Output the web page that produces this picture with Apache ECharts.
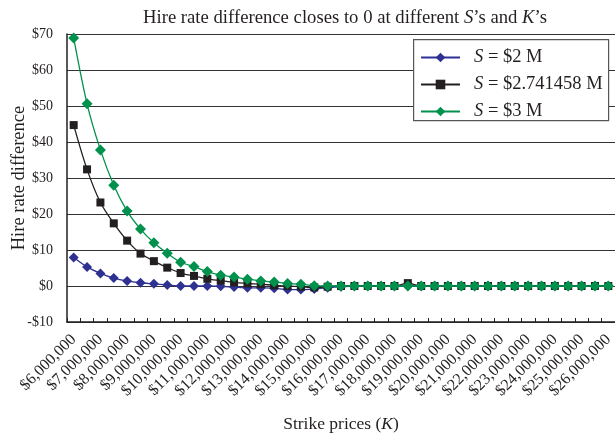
<!DOCTYPE html>
<html>
<head>
<meta charset="utf-8">
<script src="https://cdn.jsdelivr.net/npm/echarts@6/dist/echarts.min.js"></script>
<style>
html,body{margin:0;padding:0;background:#fff;}
#c{width:615px;height:434px;}
</style>
</head>
<body>
<div id="c"></div>
<script>
var strikePrices = [6000000, 6500000, 7000000, 7500000, 8000000, 8500000, 9000000, 9500000, 10000000, 10500000,
  11000000, 11500000, 12000000, 12500000, 13000000, 13500000, 14000000, 14500000, 15000000, 15500000,
  16000000, 16500000, 17000000, 17500000, 18000000, 18500000, 19000000, 19500000, 20000000, 20500000,
  21000000, 21500000, 22000000, 22500000, 23000000, 23500000, 24000000, 24500000, 25000000, 25500000, 26000000];

var s2M = [7.9, 5.3, 3.5, 2.2, 1.4, 0.9, 0.6, 0.3, 0.0, 0.0,
  0.0, -0.1, -0.3, -0.5, -0.5, -0.6, -1.0, -1.0, -0.8, -0.5,
  -0.2, 0, 0, 0, 0, 0, 0, 0, 0, 0,
  0, 0, 0, 0, 0, 0, 0, 0, 0, 0, 0];

var s2741458M = [44.7, 32.4, 23.2, 17.4, 12.6, 9.0, 6.9, 5.1, 3.6, 2.8,
  2.0, 1.5, 1.0, 0.7, 0.5, 0.2, 0.0, -0.2, -0.4, -0.2,
  0, 0, 0, 0, 0, 0.8, 0, 0, 0, 0,
  0, 0, 0, 0, 0, 0, 0, 0, 0, 0, 0];

var s3M = [68.9, 50.6, 37.8, 28.0, 20.8, 15.8, 12.0, 9.1, 6.6, 5.4,
  4.0, 3.0, 2.5, 1.9, 1.4, 1.1, 0.7, 0.5, 0.1, 0.0,
  0, 0, 0, 0, 0, 0, 0, 0, 0, 0,
  0, 0, 0, 0, 0, 0, 0, 0, 0, 0, 0];

var yTicks = { min: -10, max: 70, interval: 10 };

var serif = '"Liberation Serif", "Times New Roman", serif';

function money(v) {
  var s = Math.abs(v).toString().replace(/\B(?=(\d{3})+(?!\d))/g, ',');
  return (v < 0 ? '-$' : '$') + s;
}

var chart = echarts.init(document.getElementById('c'), null, { renderer: 'canvas' });
chart.setOption({
  animation: false,
  backgroundColor: '#fff',
  textStyle: { fontFamily: serif },
  title: {
    text: 'Hire rate difference closes to 0 at different {i|S}\u2019s and {i|K}\u2019s',
    left: 340,
    textAlign: 'center',
    top: 4,
    textStyle: {
      fontFamily: serif, fontSize: 18.7, fontWeight: 'normal', color: '#231f20',
      rich: { i: { fontFamily: serif, fontSize: 18.7, fontStyle: 'italic', color: '#231f20' } }
    }
  },
  graphic: [{
    type: 'rect', left: 413, top: 39, z: 10,
    shape: { width: 195, height: 81 },
    style: { fill: '#fff', stroke: '#555', lineWidth: 1.2 }
  }],
  legend: {
    orient: 'vertical', left: 413, top: 43, z: 11,
    padding: [5, 0, 0, 7],
    itemWidth: 39, itemHeight: 12, itemGap: 8,
    textStyle: {
      fontFamily: serif, fontSize: 18.5, lineHeight: 18.5, color: '#231f20', padding: [0, 0, 0, 9],
      rich: { i: { fontFamily: serif, fontSize: 18.5, lineHeight: 18.5, fontStyle: 'italic', color: '#231f20' } }
    },
    formatter: function (name) { return name.replace(/^S/, '{i|S}'); },
    data: ['S = $2 M', 'S = $2.741458 M', 'S = $3 M']
  },
  grid: { left: 67, top: 34, right: 0, bottom: 112, containLabel: false, outerBoundsMode: 'none' },
  xAxis: {
    type: 'category',
    data: strikePrices,
    boundaryGap: true,
    name: 'Strike prices ({i|K})',
    nameLocation: 'middle',
    nameGap: 93,
    nameMoveOverlap: false,
    nameTextStyle: {
      fontFamily: serif, fontSize: 17.5, color: '#231f20',
      rich: { i: { fontFamily: serif, fontSize: 17.5, fontStyle: 'italic', color: '#231f20' } }
    },
    axisLine: { onZero: false, lineStyle: { color: '#231f20', width: 1.5 } },
    axisTick: { show: true, inside: true, length: 4, interval: 0, lineStyle: { color: '#231f20' } },
    axisLabel: {
      interval: 1, rotate: 45, margin: 15,
      fontFamily: serif, fontSize: 16, color: '#231f20',
      formatter: function (v) { return money(Number(v)); }
    },
    splitLine: { show: false }
  },
  yAxis: {
    type: 'value',
    min: yTicks.min, max: yTicks.max, interval: yTicks.interval,
    name: 'Hire rate difference',
    nameLocation: 'middle',
    nameGap: 38,
    nameMoveOverlap: false,
    nameTextStyle: { fontFamily: serif, fontSize: 18.5, color: '#231f20' },
    axisLine: { show: true, lineStyle: { color: '#231f20', width: 1.5 } },
    axisTick: { show: false },
    axisLabel: {
      margin: 14, fontFamily: serif, fontSize: 14, color: '#231f20',
      formatter: function (v) { return money(v); }
    },
    splitLine: { show: true, lineStyle: { color: '#333', width: 1.2 } }
  },
  series: [
    {
      name: 'S = $2 M', type: 'line', data: s2M, smooth: 0.3,
      symbol: 'diamond', symbolSize: 10, showAllSymbol: true,
      lineStyle: { color: '#2e3192', width: 1.3 },
      itemStyle: { color: '#2e3192' }, z: 3
    },
    {
      name: 'S = $2.741458 M', type: 'line', data: s2741458M, smooth: 0.3,
      symbol: 'rect', symbolSize: 8, showAllSymbol: true,
      lineStyle: { color: '#231f20', width: 1.3 },
      itemStyle: { color: '#231f20' }, z: 4
    },
    {
      name: 'S = $3 M', type: 'line', data: s3M, smooth: 0.3,
      symbol: 'diamond', symbolSize: 11, showAllSymbol: true,
      lineStyle: { color: '#00914c', width: 1.3 },
      itemStyle: { color: '#00914c' }, z: 5
    }
  ]
});
</script>
</body>
</html>
